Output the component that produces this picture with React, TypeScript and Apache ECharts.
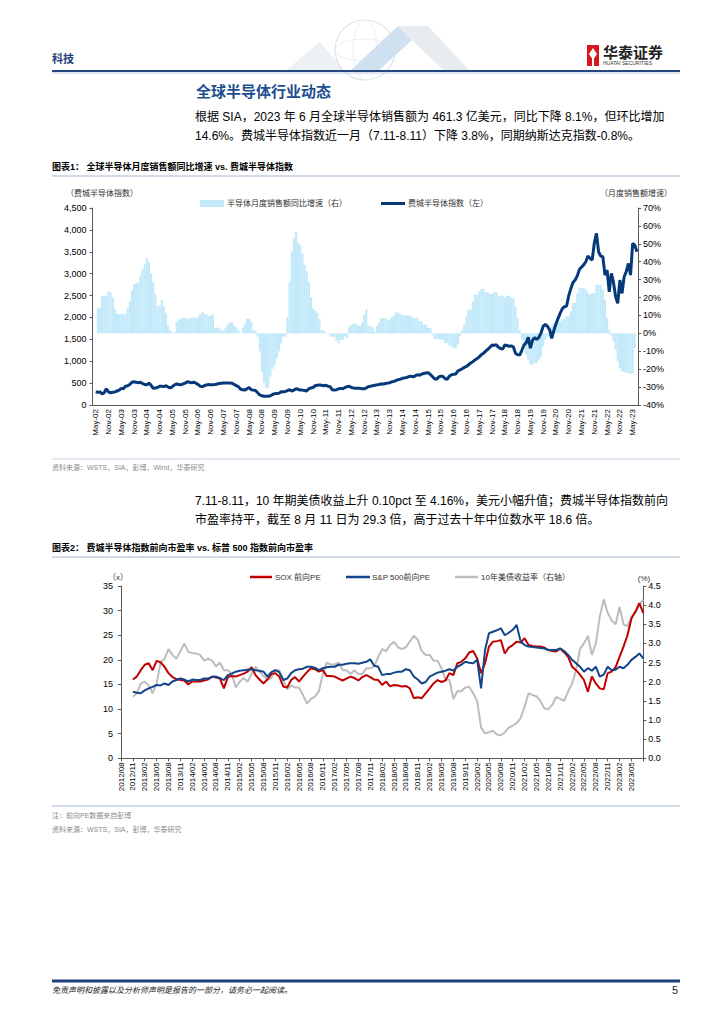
import React, { useEffect, useRef } from "react";
import * as echarts from "echarts";

// ---------- Chart 1 data (monthly, Apr-02 .. Jul-23) ----------
const MONTHS = ["Jan", "Feb", "Mar", "Apr", "May", "Jun", "Jul", "Aug", "Sep", "Oct", "Nov", "Dec"];
const cats1: string[] = [];
for (let y = 2002; y <= 2023; y++) {
  for (let m = 0; m < 12; m++) {
    if (y === 2002 && m < 3) continue;
    if (y === 2023 && m > 6) continue;
    cats1.push(`${MONTHS[m]}-${String(y % 100).padStart(2, "0")}`);
  }
}

// 半导体月度销售额同比增速 (%), right axis
const yoy2002 = [null, null, 14, 14, 20.8, 21, 21, 23.5, 22.8];
const yoy2003 = [20, 13.5, 11, 10.6, 11, 11, 11, 14, 17.6, 23.8, 27.4, 28.2];
const yoy2004 = [28.2, 32.3, 36, 38.4, 42, 39.7, 33.5, 28.7, 22, 15.2, 15.2, 18.6];
const yoy2005 = [15.2, 11.5, 4.2, 1.7, 0.5, 0.5, 6.6, 7.9, 7.9, 8.8, 8.8, 8];
const yoy2006 = [8.5, 8.5, 9, 8.5, 9, 10.6, 12, 11, 10.6, 9.8, 10, 10.6];
const yoy2007 = [3.2, 3.2, 3.2, 1.7, 1.7, 3.2, 5, 6, 6, 4.2, 3.2, 1.7];
const yoy2008 = [0, 3.2, 5.4, 8.1, 8.1, 6.6, 1.7, 1.7, -1.9, -10, -21.5, -27.6];
const yoy2009 = [-30.3, -30.3, -24, -19.8, -17.8, -14.1, -10, -5.6, -1.9, -1.9, 9.1, 28.7];
const yoy2010 = [45.8, 53.1, 56.8, 50.7, 49.4, 44.6, 38.4, 34.8, 28.7, 20.1, 14, 12.8];
const yoy2011 = [11.5, 7.9, 1.7, 1.7, 0.3, 0.3, -1.2, -1.9, -1.9, -3.9, -5.6, -3.6];
const yoy2012 = [-3.6, -1.7, -2.6, 3.7, 4.7, 5.4, 5.4, 4.2, 4.2, 6, 10.3, 13.3];
const yoy2013 = [4.2, 4.2, 3.5, 1, 4, 6, 8.6, 8.6, 8.6, 7.6, 7.6, 9];
const yoy2014 = [10, 11.7, 11.7, 11, 10, 10, 10, 10, 9.5, 8.6, 8.6, 8.6];
const yoy2015 = [6.7, 6.7, 4.9, 4.9, 3, 3, -0.8, -3.2, -3.2, -3.2, -3.5, -3.5];
const yoy2016 = [-5.4, -5.4, -6.9, -6.9, -8.2, -8.2, -6.3, -1.7, 2, 4.9, 9.5, 13.2];
const yoy2017 = [13.2, 17.9, 21.6, 21.6, 23.5, 24.8, 24.8, 23, 23, 22, 22, 23];
const yoy2018 = [23, 21, 21, 21, 20, 21, 21, 19.8, 19.8, 15, 8.6, 2];
const yoy2019 = [-3.5, -8.2, -12, -14.7, -17.5, -17.5, -16.6, -16.6, -14.7, -12.9, -7.3, -3.5];
const yoy2020 = [-1.7, -1.7, 4, 5.8, 6.7, 6.7, 6.7, 8, 8, 9.5, 9.5, 12.3];
const yoy2021 = [17, 17, 22.6, 25.4, 25.4, 25.4, 24.4, 22.6, 21.6, 22.6, 22.6, 27.2];
const yoy2022 = [27.2, 27.2, 24.4, 18.8, 8.6, 2, -1.3, -4.5, -9.1, -15.7, -19.4, -21.3];
const yoy2023 = [-21.3, -22.2, -22.2, -22.5, -22.2, -8.1, null];

// 费城半导体指数, left axis
const sox2002 = [null, 300, 290, 300, 250, 280, 370, 300, 280];
const sox2003 = [290, 300, 320, 340, 380, 370, 430, 440, 470, 520, 530, 520];
const sox2004 = [510, 520, 490, 470, 460, 500, 450, 380, 390, 400, 430, 430];
const sox2005 = [420, 440, 410, 390, 420, 460, 480, 470, 460, 480, 500, 530];
const sox2006 = [520, 510, 520, 500, 470, 430, 420, 440, 460, 470, 460, 465];
const sox2007 = [470, 480, 490, 495, 500, 505, 500, 500, 495, 470, 440, 420];
const sox2008 = [360, 350, 340, 370, 400, 350, 340, 330, 280, 230, 210, 200];
const sox2009 = [200, 200, 210, 240, 260, 265, 270, 300, 300, 310, 330, 350];
const sox2010 = [320, 340, 370, 360, 340, 340, 330, 320, 370, 390, 400, 440];
const sox2011 = [450, 460, 450, 440, 450, 430, 420, 350, 340, 350, 370, 380];
const sox2012 = [370, 400, 420, 430, 400, 390, 380, 385, 380, 370, 370, 390];
const sox2013 = [420, 430, 440, 450, 460, 470, 480, 480, 490, 500, 510, 530];
const sox2014 = [540, 560, 580, 590, 610, 620, 630, 650, 660, 640, 670, 690];
const sox2015 = [680, 710, 720, 730, 740, 700, 650, 600, 590, 640, 660, 650];
const sox2016 = [600, 590, 660, 690, 700, 710, 780, 800, 830, 860, 880, 920];
const sox2017 = [960, 990, 1030, 1060, 1100, 1150, 1180, 1230, 1270, 1320, 1370, 1360];
const sox2018 = [1380, 1320, 1290, 1280, 1370, 1360, 1340, 1350, 1330, 1180, 1150, 1140];
const sox2019 = [1250, 1370, 1420, 1545, 1300, 1480, 1540, 1500, 1545, 1650, 1800, 1840];
const sox2020 = [1800, 1720, 1520, 1700, 1850, 1980, 2100, 2200, 2245, 2260, 2500, 2663];
const sox2021 = [2800, 2854, 2950, 3097, 3150, 3200, 3272, 3402, 3350, 3310, 3700, 3919];
const sox2022 = [3500, 3400, 3386, 2968, 3082, 2587, 3006, 2800, 2473, 2321, 2854, 2549];
const sox2023 = [2930, 3050, 3234, 2968, 3691, 3653, 3500];

const salesYoY = [
  ...yoy2002, ...yoy2003, ...yoy2004, ...yoy2005, ...yoy2006, ...yoy2007, ...yoy2008, ...yoy2009,
  ...yoy2010, ...yoy2011, ...yoy2012, ...yoy2013, ...yoy2014, ...yoy2015, ...yoy2016, ...yoy2017,
  ...yoy2018, ...yoy2019, ...yoy2020, ...yoy2021, ...yoy2022, ...yoy2023,
];
const soxIndex = [
  ...sox2002, ...sox2003, ...sox2004, ...sox2005, ...sox2006, ...sox2007, ...sox2008, ...sox2009,
  ...sox2010, ...sox2011, ...sox2012, ...sox2013, ...sox2014, ...sox2015, ...sox2016, ...sox2017,
  ...sox2018, ...sox2019, ...sox2020, ...sox2021, ...sox2022, ...sox2023,
];

// ---------- Chart 2 data (monthly, 2012/08 .. 2023/08) ----------
const cats2: string[] = [];
for (let y = 2012; y <= 2023; y++) {
  for (let m = 1; m <= 12; m++) {
    if (y === 2012 && m < 8) continue;
    if (y === 2023 && m > 8) continue;
    cats2.push(`${y}/${String(m).padStart(2, "0")}`);
  }
}
const lastLabel2 = "2023/05";
const lead = [null, null, null]; // 2012/08-10: no data

const soxPE2012 = [16.0, 16.6];
const soxPE2013 = [17.9, 19.0, 19.3, 17.9, 19.8, 19.5, 18.6, 17.3, 16.5, 16.1, 15.9, 15.8];
const soxPE2014 = [15.0, 15.6, 15.6, 15.6, 15.8, 16.0, 16.6, 16.4, 16.2, 14.2, 16.5, 16.7];
const soxPE2015 = [16.6, 16.9, 17.2, 17.6, 18.5, 16.9, 16.0, 15.2, 16.0, 17.1, 17.3, 16.6];
const soxPE2016 = [14.6, 14.4, 15.9, 16.5, 15.6, 16.6, 17.5, 18.3, 18.1, 17.6, 17.9, 16.7];
const soxPE2017 = [16.7, 16.6, 16.2, 15.8, 16.2, 16.6, 16.3, 15.8, 16.5, 16.9, 16.5, 16.0];
const soxPE2018 = [15.9, 14.9, 15.6, 14.6, 14.9, 14.8, 14.6, 14.7, 14.2, 12.2, 12.4, 12.2];
const soxPE2019 = [13.2, 14.2, 15.2, 15.9, 15.5, 15.8, 17.3, 16.9, 19.3, 19.6, 20.3, 21.5];
const soxPE2020 = [21.8, 20.3, 17.3, 19.3, 22.7, 23.7, 23.8, 24.0, 21.3, 22.5, 23.0, 23.7];
const soxPE2021 = [23.5, 24.4, 23.0, 22.8, 22.7, 22.7, 22.5, 22.0, 21.8, 21.7, 22.3, 21.5];
const soxPE2022 = [20.6, 18.6, 17.9, 17.0, 15.9, 13.5, 16.6, 15.2, 14.2, 14.0, 17.3, 17.6];
const soxPE2023 = [18.5, 20.6, 22.7, 25.0, 28.4, 29.8, 31.5, 29.5];

const spxPE2012 = [13.5, 13.3];
const spxPE2013 = [13.2, 13.8, 14.2, 14.5, 14.9, 14.8, 15.2, 14.9, 15.6, 15.9, 16.2, 16.0];
const spxPE2014 = [15.6, 16.0, 15.9, 15.9, 16.2, 16.2, 16.5, 16.6, 16.3, 15.9, 16.9, 17.2];
const spxPE2015 = [17.6, 17.8, 17.9, 18.0, 18.1, 17.9, 17.8, 17.6, 16.6, 17.5, 17.9, 17.5];
const spxPE2016 = [15.9, 16.2, 17.3, 17.9, 18.1, 18.2, 18.6, 18.6, 18.4, 17.9, 18.3, 18.5];
const spxPE2017 = [18.6, 18.6, 19.0, 19.0, 19.2, 19.3, 19.3, 19.2, 19.4, 19.6, 20.1, 18.8];
const spxPE2018 = [18.6, 16.9, 17.1, 17.1, 17.4, 17.6, 17.6, 18.1, 17.9, 16.6, 16.0, 15.2];
const spxPE2019 = [15.5, 16.6, 17.0, 17.4, 17.6, 17.8, 18.1, 17.8, 18.6, 19.0, 19.6, 19.4];
const spxPE2020 = [19.3, 20.0, 14.2, 22.0, 25.4, 25.7, 26.0, 26.4, 25.0, 25.5, 26.1, 27.1];
const spxPE2021 = [23.7, 23.0, 22.7, 22.6, 22.5, 22.4, 22.3, 22.0, 22.0, 22.0, 22.3, 21.8];
const spxPE2022 = [21.0, 20.0, 19.3, 18.6, 17.6, 18.3, 17.8, 18.6, 16.6, 17.0, 18.6, 17.9];
const spxPE2023 = [18.0, 18.6, 18.3, 19.0, 20.0, 20.6, 21.3, 20.3];

const ust2012 = [1.61, 1.7];
const ust2013 = [1.95, 2.0, 1.9, 1.7, 1.95, 2.5, 2.6, 2.85, 2.7, 2.6, 2.8, 3.0];
const ust2014 = [2.78, 2.75, 2.74, 2.7, 2.55, 2.6, 2.55, 2.4, 2.5, 2.3, 2.3, 2.2];
const ust2015 = [1.85, 2.0, 2.1, 2.0, 2.2, 2.39, 2.25, 2.15, 2.05, 2.1, 2.3, 2.3];
const ust2016 = [2.05, 1.8, 1.9, 1.85, 1.85, 1.65, 1.43, 1.55, 1.61, 1.75, 2.2, 2.5];
const ust2017 = [2.45, 2.45, 2.5, 2.3, 2.3, 2.2, 2.3, 2.2, 2.2, 2.35, 2.35, 2.4];
const ust2018 = [2.65, 2.85, 2.8, 2.96, 3.04, 2.9, 2.85, 2.9, 3.05, 3.2, 3.1, 2.8];
const ust2019 = [2.7, 2.7, 2.55, 2.55, 2.35, 2.05, 2.05, 1.55, 1.75, 1.75, 1.85, 1.87];
const ust2020 = [1.7, 1.5, 0.8, 0.65, 0.68, 0.72, 0.62, 0.6, 0.68, 0.8, 0.85, 0.92];
const ust2021 = [1.05, 1.35, 1.7, 1.65, 1.62, 1.5, 1.3, 1.28, 1.4, 1.6, 1.55, 1.5];
const ust2022 = [1.75, 1.95, 2.3, 2.85, 3.0, 3.2, 2.7, 3.0, 3.7, 4.15, 3.8, 3.6];
const ust2023 = [3.5, 3.95, 3.5, 3.45, 3.7, 3.8, 4.0, 4.15];

const soxPE = [
  ...lead, ...soxPE2012, ...soxPE2013, ...soxPE2014, ...soxPE2015, ...soxPE2016, ...soxPE2017,
  ...soxPE2018, ...soxPE2019, ...soxPE2020, ...soxPE2021, ...soxPE2022, ...soxPE2023,
];
const spxPE = [
  ...lead, ...spxPE2012, ...spxPE2013, ...spxPE2014, ...spxPE2015, ...spxPE2016, ...spxPE2017,
  ...spxPE2018, ...spxPE2019, ...spxPE2020, ...spxPE2021, ...spxPE2022, ...spxPE2023,
];
const ust10y = [
  ...lead, ...ust2012, ...ust2013, ...ust2014, ...ust2015, ...ust2016, ...ust2017,
  ...ust2018, ...ust2019, ...ust2020, ...ust2021, ...ust2022, ...ust2023,
];

// ---------- texts ----------
const para1 = [
  "根据 SIA，2023 年 6 月全球半导体销售额为 461.3 亿美元，同比下降 8.1%，但环比增加",
  "14.6%。费城半导体指数近一月（7.11-8.11）下降 3.8%，同期纳斯达克指数-0.8%。",
];
const para2 = [
  "7.11-8.11，10 年期美债收益上升 0.10pct 至 4.16%，美元小幅升值；费城半导体指数前向",
  "市盈率持平，截至 8 月 11 日为 29.3 倍，高于过去十年中位数水平 18.6 倍。",
];

const FONT = '"Liberation Sans", "Noto Sans CJK SC", sans-serif';
const NAVY = "#06397a";
const BAR = "#c2e9f9";
const RED = "#c00000";
const BLUE = "#12458a";
const GRAY = "#bdbdbd";

function txt(x: number, y: number, text: string, size: number, opts: any = {}) {
  const align = opts.align || "left";
  return {
    type: "text",
    x,
    y,
    silent: true,
    style: {
      text,
      font: `${opts.italic ? "italic " : ""}${opts.bold ? "bold " : ""}${size}px ${FONT}`,
      fill: opts.fill || "#000",
      align,
      verticalAlign: "middle",
      textAlign: align,
      textVerticalAlign: "middle",
    },
  };
}
function hline(x1: number, x2: number, y: number, w: number, color: string) {
  return { type: "line", silent: true, shape: { x1, y1: y, x2, y2: y }, style: { stroke: color, lineWidth: w } };
}

export default function App() {
  const ref = useRef<HTMLDivElement>(null);
  useEffect(() => {
    if (!ref.current) return;
    const chart = echarts.init(ref.current, null, { renderer: "svg" });
    const axisLineStyle = { lineStyle: { color: "#595959", width: 1 } };
    const graphics: any[] = [
      // decorative header art
      { type: "polygon", silent: true, shape: { points: [[285, 71], [320, 42], [345, 71]] }, style: { fill: "#eef1f4" } },
      { type: "circle", silent: true, shape: { cx: 365, cy: 50, r: 30 }, style: { fill: "none", stroke: "#dfe4ea", lineWidth: 1.2 } },
      { type: "ellipse", silent: true, shape: { cx: 365, cy: 50, rx: 30, ry: 11 }, style: { fill: "none", stroke: "#e6eaef", lineWidth: 0.8 } },
      { type: "ellipse", silent: true, shape: { cx: 365, cy: 50, rx: 12, ry: 30 }, style: { fill: "none", stroke: "#e6eaef", lineWidth: 0.8 } },
      { type: "polygon", silent: true, shape: { points: [[350, 71], [398, 26], [412, 40], [378, 71]] }, style: { fill: "#cfe0f0" } },
      { type: "polygon", silent: true, shape: { points: [[398, 26], [428, 26], [470, 71], [444, 71], [412, 40]] }, style: { fill: "#e9ecef" } },
      // header
      txt(52, 59, "科技", 11, { bold: true, fill: "#1f3d7a" }),
      { type: "rect", silent: true, shape: { x: 587, y: 45, width: 12, height: 21 }, style: { fill: "#d7191f" } },
      { type: "polygon", silent: true, shape: { points: [[593, 48], [597, 54], [593, 60], [589, 54]] }, style: { fill: "#fff" } },
      { type: "rect", silent: true, shape: { x: 592, y: 58, width: 2, height: 8 }, style: { fill: "#fff" } },
      txt(603, 52, "华泰证券", 15, { bold: true, fill: "#222" }),
      txt(603, 63, "HUATAI SECURITIES", 5, { fill: "#333" }),
      hline(52, 680, 71, 2, "#24467f"),
      hline(52, 680, 73, 0.8, "#a9bcd6"),
      // title + paragraph 1
      txt(196, 91, "全球半导体行业动态", 15, { bold: true, fill: "#1d4e8f" }),
      txt(195, 117, para1[0], 12),
      txt(195, 136, para1[1], 12),
      // chart 1 header
      txt(52, 167, "图表1： 全球半导体月度销售额同比增速 vs. 费城半导体指数", 9, { bold: true }),
      hline(52, 680, 176, 1, "#a4b6cf"),
      txt(66, 193, "（费城半导体指数）", 8, { fill: "#333" }),
      txt(600, 193, "（月度销售额增速）", 8, { fill: "#333" }),
      { type: "rect", silent: true, shape: { x: 200, y: 200, width: 24, height: 7 }, style: { fill: BAR } },
      txt(227, 203.5, "半导体月度销售额同比增速（右）", 8, { fill: "#333" }),
      hline(381, 405, 203.5, 3, NAVY),
      txt(408, 203.5, "费城半导体指数（左）", 8, { fill: "#333" }),
      hline(52, 680, 459, 1, "#c5d3e6"),
      txt(52, 467, "资料来源：WSTS，SIA，彭博，Wind，华泰研究", 7, { fill: "#8a8a8a" }),
      // paragraph 2
      txt(195, 501, para2[0], 12),
      txt(195, 520, para2[1], 12),
      // chart 2 header
      txt(52, 548, "图表2： 费城半导体指数前向市盈率 vs. 标普 500 指数前向市盈率", 9, { bold: true }),
      hline(52, 680, 557, 1, "#a4b6cf"),
      hline(250, 272, 577, 2.5, RED),
      txt(275, 577, "SOX 前向PE", 8, { fill: "#333" }),
      hline(346, 370, 577, 2.5, BLUE),
      txt(372, 577, "S&P 500前向PE", 8, { fill: "#333" }),
      hline(455, 478, 577, 2.5, GRAY),
      txt(481, 577, "10年美债收益率（右轴）", 8, { fill: "#333" }),
      txt(118, 577, "（x）", 8, { fill: "#333", align: "center" }),
      txt(644, 578, "(%)", 8, { fill: "#333", align: "center" }),
      hline(52, 680, 806, 1, "#a4b6cf"),
      txt(52, 815, "注：前向PE数据来自彭博", 7, { fill: "#8a8a8a" }),
      txt(52, 829, "资料来源：WSTS，SIA，彭博，华泰研究", 7, { fill: "#8a8a8a" }),
      // footer
      hline(52, 680, 981, 3, "#1f3f7c"),
      txt(52, 990, "免责声明和披露以及分析师声明是报告的一部分，请务必一起阅读。", 8, { italic: true, fill: "#222" }),
      txt(678, 990, "5", 11, { fill: "#222", align: "right" }),
    ];

    const lastIdx2 = cats2.indexOf(lastLabel2);
    const option: any = {
      animation: false,
      backgroundColor: "#fff",
      textStyle: { fontFamily: FONT },
      grid: [
        { left: 92.5, right: 724 - 638, top: 208, height: 197, containLabel: false },
        { left: 121, right: 724 - 643.3, top: 586, height: 172.3, containLabel: false },
      ],
      xAxis: [
        {
          type: "category",
          gridIndex: 0,
          data: cats1,
          boundaryGap: true,
          axisLine: { onZero: false, ...axisLineStyle },
          axisTick: { show: false },
          axisLabel: {
            interval: (_i: number, v: string) => v.startsWith("May") || v.startsWith("Nov"),
            rotate: 90,
            fontSize: 8,
            color: "#000",
            margin: 4,
          },
          splitLine: { show: false },
        },
        {
          type: "category",
          gridIndex: 1,
          data: cats2,
          boundaryGap: false,
          axisLine: { onZero: false, ...axisLineStyle },
          axisTick: { show: true, interval: 2, length: 3, lineStyle: { color: "#595959" } },
          axisLabel: {
            interval: (i: number) => i % 3 === 0 && i <= lastIdx2,
            rotate: 90,
            fontSize: 8,
            color: "#000",
            margin: 4,
          },
          splitLine: { show: false },
        },
      ],
      yAxis: [
        {
          type: "value",
          gridIndex: 0,
          min: 0,
          max: 4500,
          interval: 500,
          position: "left",
          axisLine: { show: true, ...axisLineStyle },
          axisTick: { show: true, length: 3, lineStyle: { color: "#595959" } },
          axisLabel: { fontSize: 9, color: "#000", margin: 6, formatter: (v: number) => v.toLocaleString("en-US") },
          splitLine: { show: false },
        },
        {
          type: "value",
          gridIndex: 0,
          min: -40,
          max: 70,
          interval: 10,
          position: "right",
          axisLine: { show: true, ...axisLineStyle },
          axisTick: { show: true, length: 3, lineStyle: { color: "#595959" } },
          axisLabel: { fontSize: 9, color: "#000", margin: 5, formatter: (v: number) => `${v}%` },
          splitLine: { show: false },
        },
        {
          type: "value",
          gridIndex: 1,
          min: 0,
          max: 35,
          interval: 5,
          position: "left",
          axisLine: { show: true, ...axisLineStyle },
          axisTick: { show: true, length: 3, lineStyle: { color: "#595959" } },
          axisLabel: { fontSize: 9, color: "#000", margin: 8 },
          splitLine: { show: false },
        },
        {
          type: "value",
          gridIndex: 1,
          min: 0,
          max: 4.5,
          interval: 0.5,
          position: "right",
          axisLine: { show: true, ...axisLineStyle },
          axisTick: { show: true, length: 3, lineStyle: { color: "#595959" } },
          axisLabel: { fontSize: 9, color: "#000", margin: 5, formatter: (v: number) => v.toFixed(1) },
          splitLine: { show: false },
        },
      ],
      series: [
        {
          name: "半导体月度销售额同比增速（右）",
          type: "bar",
          xAxisIndex: 0,
          yAxisIndex: 1,
          data: salesYoY,
          barCategoryGap: "0%",
          barGap: "0%",
          itemStyle: { color: BAR },
          z: 1,
        },
        {
          name: "费城半导体指数（左）",
          type: "line",
          xAxisIndex: 0,
          yAxisIndex: 0,
          data: soxIndex,
          symbol: "none",
          lineStyle: { width: 3, color: NAVY },
          z: 3,
        },
        {
          name: "SOX 前向PE",
          type: "line",
          xAxisIndex: 1,
          yAxisIndex: 2,
          data: soxPE,
          symbol: "none",
          lineStyle: { width: 2, color: RED },
          z: 3,
        },
        {
          name: "S&P 500前向PE",
          type: "line",
          xAxisIndex: 1,
          yAxisIndex: 2,
          data: spxPE,
          symbol: "none",
          lineStyle: { width: 2, color: BLUE },
          z: 4,
        },
        {
          name: "10年美债收益率（右轴）",
          type: "line",
          xAxisIndex: 1,
          yAxisIndex: 3,
          data: ust10y,
          symbol: "none",
          lineStyle: { width: 2, color: GRAY },
          z: 2,
        },
      ],
      graphic: graphics,
    };
    chart.setOption(option);
    return () => chart.dispose();
  }, []);
  return (
    <div
      ref={ref}
      style={{ position: "absolute", left: 0, top: 0, width: 724, height: 1024, background: "#fff" }}
    />
  );
}
